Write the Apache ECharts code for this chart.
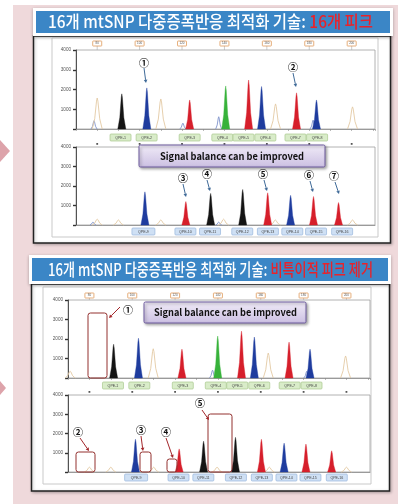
<!DOCTYPE html>
<html><head><meta charset="utf-8">
<script src="https://cdn.jsdelivr.net/npm/echarts@6/dist/echarts.min.js"></script>
<style>html,body{margin:0;padding:0;background:#fff}#c{width:398px;height:504px}</style>
</head><body><div id="c"></div>
<script>
// Size-standard marker fragments (bp)
const SIZE_MARKS = [80, 100, 120, 140, 160, 180, 200];

// Peaks: [size (bp), height (RFU), dye]
const PEAKS_BEFORE_UPPER = [
  [78.5, 420, 'noise'], [80, 1570, 'tan'], [91.6, 1780, 'black'], [103.4, 2080, 'blue'],
  [110, 1520, 'tan'], [120.4, 300, 'noise'], [123.6, 1470, 'red'], [137.3, 620, 'noise'],
  [140.6, 2180, 'green'], [151.4, 2480, 'red'], [157.5, 2150, 'blue'], [164.1, 1270, 'tan'],
  [174, 1830, 'red'], [181.8, 450, 'noise'], [183.4, 1470, 'blue'], [200.4, 1120, 'tan']
];
const PEAKS_BEFORE_LOWER = [
  [78, 150, 'noise'], [80, 300, 'tan'], [90, 260, 'tan'], [102.5, 1700, 'blue'],
  [110, 260, 'tan'], [121.8, 1200, 'red'], [133.5, 1620, 'black'], [137.3, 150, 'noise'],
  [139.6, 300, 'tan'], [148.6, 1820, 'black'], [160.4, 1650, 'red'], [164, 260, 'tan'],
  [171.2, 1520, 'blue'], [182, 1460, 'red'], [193.8, 1150, 'red'], [200.4, 260, 'tan']
];
const PEAKS_AFTER_UPPER = [
  [71, 350, 'tan'],
  [91.3, 1730, 'black'], [102.9, 2040, 'blue'], [109.8, 1500, 'tan'], [123.2, 1480, 'red'],
  [137.5, 400, 'noise'], [139.9, 2150, 'green'], [151, 2400, 'red'], [157, 2100, 'blue'],
  [163.5, 1280, 'tan'], [173.2, 1840, 'red'], [181.5, 350, 'noise'], [183, 1480, 'blue'],
  [199.6, 1130, 'tan']
];
const PEAKS_AFTER_LOWER = [
  [80, 250, 'tan'], [90, 250, 'tan'], [101.5, 1700, 'blue'], [110, 250, 'tan'],
  [121.9, 1200, 'red'], [133.3, 1600, 'black'], [139.6, 250, 'tan'], [148.2, 1800, 'black'],
  [160.3, 1700, 'red'], [164, 250, 'tan'], [170.9, 1500, 'blue'], [181.1, 1450, 'red'],
  [193.1, 1100, 'red'], [200, 250, 'tan']
];

// Locus names and their positions (bp)
const LOCI_UPPER = ['QPE-1', 'QPE-2', 'QPE-3', 'QPE-4', 'QPE-5', 'QPE-6', 'QPE-7', 'QPE-8'];
const LOCI_UPPER_BP = [91, 103.3, 123.6, 139, 149, 159.3, 173.5, 183.7];
const LOCI_LOWER = ['QPE-9', 'QPE-10', 'QPE-11', 'QPE-12', 'QPE-13', 'QPE-14', 'QPE-15', 'QPE-16'];
const LOCI_LOWER_BP = [101.8, 121.6, 133.2, 148.4, 160.5, 172, 183.2, 195.5];

const TITLE_MAIN = '16개 mtSNP 다중증폭반응 최적화 기술: ';
const TITLE_TAIL_1 = '16개 피크';
const TITLE_TAIL_2 = '비특이적 피크 제거';
const CALLOUT = 'Signal balance can be improved';

const DYE = {
  black: { color: '#141414', fill: true, w: 4 },
  blue:  { color: '#1f3c9e', fill: true, w: 4 },
  red:   { color: '#d61f2b', fill: true, w: 4 },
  green: { color: '#37b23a', fill: true, w: 4 },
  tan:   { color: '#e3c9a4', fill: false, w: 5 },
  noise: { color: '#8094cc', fill: false, w: 3 }
};

const KR = '"Noto Sans CJK KR", "Noto Sans", sans-serif';
const mctx = document.createElement('canvas').getContext('2d');
function fitScale(text, font, target) {
  mctx.font = font;
  return target / mctx.measureText(text).width;
}

// Plot panels: grid boxes in pixels
const GRIDS = [
  { left: 76, top: 50, width: 299, height: 79 },
  { left: 76, top: 147, width: 299, height: 78 },
  { left: 68, top: 300, width: 302, height: 78 },
  { left: 68, top: 395, width: 302, height: 77 }
];

function peakPath(x, y, topY, w) {
  const h = y - topY;
  return [[x - w, y], [x - 0.5 * w, y - 0.33 * h], [x - 0.14 * w, y - 0.9 * h], [x, topY],
          [x + 0.14 * w, y - 0.9 * h], [x + 0.5 * w, y - 0.33 * h], [x + w, y]];
}

function peakSeries(gi, peaks, filled) {
  const list = peaks.filter(p => DYE[p[2]].fill === filled);
  return {
    type: 'custom', xAxisIndex: gi, yAxisIndex: gi, z: filled ? 4 : 3,
    data: list.map(p => [p[0], p[1]]),
    encode: { x: 0, y: 1 },
    renderItem(params, api) {
      const st = DYE[list[params.dataIndex][2]];
      const top = api.coord([api.value(0), api.value(1)]);
      const base = api.coord([api.value(0), 0]);
      const pts = peakPath(base[0], base[1], top[1], st.w);
      if (st.fill) {
        return { type: 'polygon', shape: { points: pts }, style: { fill: st.color, stroke: st.color, lineWidth: 0.4 } };
      }
      return { type: 'polyline', shape: { points: pts }, style: { fill: null, stroke: st.color, lineWidth: 0.9 } };
    }
  };
}

function lociSeries(gi, names, pos, off, fill, stroke, wide) {
  return {
    type: 'custom', xAxisIndex: gi, yAxisIndex: gi, z: 5,
    data: pos.map(b => [b, 0]),
    encode: { x: 0, y: 1 },
    renderItem(params, api) {
      const c = api.coord([api.value(0), 0]);
      const w = (params.dataIndex === 0 && wide) ? 23 : 21;
      return {
        type: 'group', children: [
          { type: 'rect', shape: { x: c[0] - w / 2, y: c[1] + off, width: w, height: 7, r: 1 },
            style: { fill: fill, stroke: stroke, lineWidth: 0.7 } },
          { type: 'text', style: { text: names[params.dataIndex], x: c[0], y: c[1] + off + 3.6,
            align: 'center', verticalAlign: 'middle', fontSize: 3.6, fill: '#444', fontFamily: 'Liberation Sans' } }
        ]
      };
    }
  };
}

function markerSeries(gi, boxed, dy) {
  return {
    type: 'custom', xAxisIndex: gi, yAxisIndex: gi, z: 5,
    data: SIZE_MARKS.map(b => [b, 4000]),
    encode: { x: 0, y: 1 },
    renderItem(params, api) {
      const c = api.coord([api.value(0), 4000]);
      if (!boxed) {
        return { type: 'rect', shape: { x: c[0] - 0.9, y: c[1] - dy, width: 1.8, height: 1.8 }, style: { fill: '#555' } };
      }
      return {
        type: 'group', children: [
          { type: 'line', shape: { x1: c[0], y1: c[1] - dy + 5, x2: c[0], y2: c[1] }, style: { stroke: '#aaa', lineWidth: 0.6 } },
          { type: 'rect', shape: { x: c[0] - 4.5, y: c[1] - dy, width: 9, height: 5, r: 0.5 }, style: { fill: '#fff', stroke: '#df9b5a', lineWidth: 0.8 } },
          { type: 'text', style: { text: String(SIZE_MARKS[params.dataIndex]), x: c[0], y: c[1] - dy + 2.6, align: 'center', verticalAlign: 'middle', fontSize: 3, fill: '#555' } }
        ]
      };
    }
  };
}

const grid = GRIDS.map(g => Object.assign({ show: true, borderColor: '#a0a0a0', borderWidth: 0.8, backgroundColor: 'transparent' }, g));
const xAxis = GRIDS.map((g, i) => ({
  gridIndex: i, type: 'value', min: 70, max: 211, interval: 10, position: 'top',
  axisLine: { show: true, lineStyle: { color: '#8a8a8a', width: 0.8 } },
  axisTick: { show: i % 2 === 0, inside: true, length: 2, lineStyle: { color: '#8a8a8a', width: 0.6 } },
  axisLabel: { show: false }, splitLine: { show: false }
}));
const yAxis = GRIDS.map((g, i) => ({
  gridIndex: i, type: 'value', min: 0, max: 4000, interval: 1000,
  axisLine: { show: true, lineStyle: { color: '#444', width: 0.9 } },
  axisTick: { show: true, length: 3, lineStyle: { color: '#333', width: 1.4 } },
  axisLabel: { fontSize: 4.6, color: '#555', margin: 5, formatter: v => v === 0 ? '' : String(v) },
  splitLine: { show: false }
}));

const series = [
  peakSeries(0, PEAKS_BEFORE_UPPER, false), peakSeries(0, PEAKS_BEFORE_UPPER, true),
  peakSeries(1, PEAKS_BEFORE_LOWER, false), peakSeries(1, PEAKS_BEFORE_LOWER, true),
  peakSeries(2, PEAKS_AFTER_UPPER, false), peakSeries(2, PEAKS_AFTER_UPPER, true),
  peakSeries(3, PEAKS_AFTER_LOWER, false), peakSeries(3, PEAKS_AFTER_LOWER, true),
  lociSeries(0, LOCI_UPPER, LOCI_UPPER_BP, 5, '#d9ecc9', '#a9c98e', false),
  lociSeries(1, LOCI_LOWER, LOCI_LOWER_BP, 3, '#cfe0f4', '#98b6dc', true),
  lociSeries(2, LOCI_UPPER, LOCI_UPPER_BP, 4, '#d9ecc9', '#a9c98e', false),
  lociSeries(3, LOCI_LOWER, LOCI_LOWER_BP, 2, '#cfe0f4', '#98b6dc', true),
  markerSeries(0, true, 9), markerSeries(1, false, 4),
  markerSeries(2, true, 7), markerSeries(3, false, 4)
];

// ---- decorations ----
const BG = -20, FG = 50;
function frame(x, y, w, h, border) {
  return { type: 'rect', z: BG + 1, shape: { x, y, width: w, height: h },
    style: { fill: '#fff', stroke: border, lineWidth: 1.5, shadowBlur: 3, shadowColor: 'rgba(0,0,0,0.25)', shadowOffsetX: 1, shadowOffsetY: 1 } };
}
function titleBar(y, tail) {
  const font = '500 17px ' + KR;
  const s = fitScale(TITLE_MAIN + tail, font, 325);
  return [
    { type: 'text', z: BG + 5, x: 48, y: y + 11, scaleX: s, scaleY: 1,
      style: { text: '{w|' + TITLE_MAIN + '}{r|' + tail + '}', x: 0, y: 0, verticalAlign: 'middle', align: 'left',
        rich: { w: { fill: '#fff', font: font }, r: { fill: '#e8232b', font: font } } } }
  ];
}
function calloutBox(x, y, w, h, tx, tw) {
  const font = 'bold 10px ' + KR;
  const s = fitScale(CALLOUT, font, tw);
  return [
    { type: 'rect', z: FG, shape: { x, y, width: w, height: h, r: 1.5 },
      style: { fill: { type: 'linear', x: 0, y: 0, x2: 0, y2: 1, colorStops: [{ offset: 0, color: '#f1ecf8' }, { offset: 1, color: '#cbbfe2' }] },
        stroke: '#6d5a9e', lineWidth: 1, shadowBlur: 3, shadowColor: 'rgba(0,0,0,0.35)', shadowOffsetX: 1.5, shadowOffsetY: 1.5 } },
    { type: 'text', z: FG + 1, x: tx, y: y + h / 2, scaleX: s,
      style: { text: CALLOUT, x: 0, y: 0, align: 'center', verticalAlign: 'middle', font: font, fill: '#111' } }
  ];
}
function num(t, x, y) {
  return { type: 'text', z: FG, style: { text: t, x, y, align: 'center', verticalAlign: 'middle', font: 'bold 10px ' + KR, fill: '#111' } };
}
function arrow(x1, y1, x2, y2, color) {
  const a = Math.atan2(y2 - y1, x2 - x1), L = 3.2, W = 1.8;
  const bx = x2 - L * Math.cos(a), by = y2 - L * Math.sin(a);
  return [
    { type: 'line', z: FG, shape: { x1, y1, x2: bx, y2: by }, style: { stroke: color, lineWidth: 1 } },
    { type: 'polygon', z: FG, shape: { points: [[x2, y2], [bx - W * Math.sin(a), by + W * Math.cos(a)], [bx + W * Math.sin(a), by - W * Math.cos(a)]] }, style: { fill: color } }
  ];
}
function box(x, y, w, h) {
  return { type: 'rect', z: FG, shape: { x, y, width: w, height: h, r: 2.5 }, style: { fill: null, stroke: '#93302f', lineWidth: 1 } };
}
const BLUE_ARROW = '#3f6a98', RED_ARROW = '#a3262a';

const graphics = [
  { type: 'rect', z: BG, shape: { x: 13, y: 5, width: 385, height: 499 }, style: { fill: '#efd9db' } },
  { type: 'polygon', z: BG, shape: { points: [[0, 140], [10, 151], [0, 162]] }, style: { fill: '#dda3aa' } },
  { type: 'polygon', z: BG, shape: { points: [[0, 381], [6, 388], [0, 395]] }, style: { fill: '#dda3aa' } },
  // panel 1
  frame(33.5, 36, 357, 207, '#222'),
  { type: 'rect', z: BG + 2, shape: { x: 52, y: 38, width: 326, height: 199 }, style: { fill: '#fff', stroke: '#c9c9c9', lineWidth: 1 } },
  { type: 'rect', z: BG + 3, shape: { x: 33, y: 8, width: 360, height: 28 }, style: { fill: '#fff', shadowBlur: 3, shadowColor: 'rgba(0,0,0,0.3)', shadowOffsetY: 1 } },
  { type: 'rect', z: BG + 4, shape: { x: 36, y: 11, width: 354, height: 22 }, style: { fill: '#3b86c6' } },
  ...titleBar(11, TITLE_TAIL_1),
  // panel 2
  frame(31.5, 284, 358, 207, '#222'),
  { type: 'rect', z: BG + 2, shape: { x: 43, y: 287, width: 328, height: 197 }, style: { fill: '#fff', stroke: '#c9c9c9', lineWidth: 1 } },
  { type: 'rect', z: BG + 3, shape: { x: 29, y: 255, width: 362, height: 29 }, style: { fill: '#fff', shadowBlur: 3, shadowColor: 'rgba(0,0,0,0.3)', shadowOffsetY: 1 } },
  { type: 'rect', z: BG + 4, shape: { x: 32, y: 258, width: 356, height: 23 }, style: { fill: '#3b86c6' } },
  ...titleBar(259, TITLE_TAIL_2),
  // callouts
  ...calloutBox(139, 145, 186, 22, 232, 144),
  ...calloutBox(144, 302, 162, 21, 225.5, 143),
  // panel 1 markers
  num('①', 144, 63), ...arrow(144, 68, 146, 83, BLUE_ARROW),
  num('②', 293, 67), ...arrow(293, 73, 296, 87, BLUE_ARROW),
  num('③', 183, 178), ...arrow(183, 184, 186, 197, BLUE_ARROW),
  num('④', 207, 174), ...arrow(207, 180, 210, 191, BLUE_ARROW),
  num('⑤', 263, 174), ...arrow(264, 180, 267, 191, BLUE_ARROW),
  num('⑥', 309, 175), ...arrow(310, 181, 313, 192, BLUE_ARROW),
  num('⑦', 334, 176), ...arrow(335, 182, 339, 194, BLUE_ARROW),
  // panel 2 markers
  box(88, 313, 19, 65), num('①', 128, 310), ...arrow(120, 307, 109, 318, RED_ARROW),
  box(76, 452, 19, 20), num('②', 78, 432), ...arrow(80, 438, 89, 451, RED_ARROW),
  box(140, 452, 11, 20), num('③', 141, 430), ...arrow(141, 436, 143, 451, RED_ARROW),
  box(167, 459, 10, 13), num('④', 166, 432), ...arrow(166, 438, 173, 458, RED_ARROW),
  box(208, 414, 24, 58), num('⑤', 200, 403), ...arrow(202, 410, 209, 420, RED_ARROW)
];

const chart = echarts.init(document.getElementById('c'), null, { renderer: 'canvas' });
chart.setOption({
  animation: false,
  backgroundColor: '#fff',
  grid, xAxis, yAxis, series,
  graphic: { elements: graphics }
});
</script></body></html>
